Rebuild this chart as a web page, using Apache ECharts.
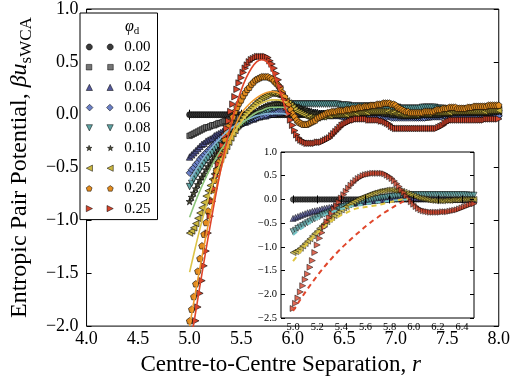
<!DOCTYPE html>
<html><head><meta charset="utf-8">
<script src="https://cdn.jsdelivr.net/npm/echarts@6/dist/echarts.min.js"></script>
<style>html,body{margin:0;padding:0;background:#fff}#c{width:513px;height:381px}</style>
</head><body><div id="c"></div>
<script>
// ---------- data (r step 0.02, 5.00 .. 8.00) ----------
const r = [
5.00,5.02,5.04,5.06,5.08,5.10,5.12,5.14,5.16,5.18,
5.20,5.22,5.24,5.26,5.28,5.30,5.32,5.34,5.36,5.38,
5.40,5.42,5.44,5.46,5.48,5.50,5.52,5.54,5.56,5.58,
5.60,5.62,5.64,5.66,5.68,5.70,5.72,5.74,5.76,5.78,
5.80,5.82,5.84,5.86,5.88,5.90,5.92,5.94,5.96,5.98,
6.00,6.02,6.04,6.06,6.08,6.10,6.12,6.14,6.16,6.18,
6.20,6.22,6.24,6.26,6.28,6.30,6.32,6.34,6.36,6.38,
6.40,6.42,6.44,6.46,6.48,6.50,6.52,6.54,6.56,6.58,
6.60,6.62,6.64,6.66,6.68,6.70,6.72,6.74,6.76,6.78,
6.80,6.82,6.84,6.86,6.88,6.90,6.92,6.94,6.96,6.98,
7.00,7.02,7.04,7.06,7.08,7.10,7.12,7.14,7.16,7.18,
7.20,7.22,7.24,7.26,7.28,7.30,7.32,7.34,7.36,7.38,
7.40,7.42,7.44,7.46,7.48,7.50,7.52,7.54,7.56,7.58,
7.60,7.62,7.64,7.66,7.68,7.70,7.72,7.74,7.76,7.78,
7.80,7.82,7.84,7.86,7.88,7.90,7.92,7.94,7.96,7.98,
8.00];
const u000 = [
0,0,0,0,0,0,0,0,0,0, 0,0,0,0,0,0,0,0,0,0, 0,0,0,0,0,0,0,0,0,0,
0,0,0,0,0,0,0,0,0,0, 0,0,0,0,0,0,0,0,0,0, 0,0,0,0,0,0,0,0,0,0,
0,0,0,0,0,0,0,0,0,0, 0,0,0,0,0,0,0,0,0,0, 0,0,0,0,0,0,0,0,0,0,
0,0,0,0,0,0,0,0,0,0, 0,0,0,0,0,0,0,0,0,0, 0,0,0,0,0,0,0,0,0,0,
0,0,0,0,0,0,0,0,0,0, 0,0,0,0,0,0,0,0,0,0, 0,0,0,0,0,0,0,0,0,0,
0];
const u002 = [
-0.20,-0.19,-0.18,-0.17,-0.16,-0.15,-0.14,-0.13,-0.12,-0.12,
-0.11,-0.10,-0.10,-0.09,-0.08,-0.08,-0.07,-0.06,-0.06,-0.05,
-0.05,-0.04,-0.04,-0.03,-0.03,-0.03,-0.02,-0.02,-0.01,-0.01,
-0.01,-0.01,0.00,0.00,0.00,0.01,0.01,0.01,0.01,0.02,
0.02,0.02,0.02,0.02,0.02,0.02,0.02,0.02,0.02,0.02,
0.02,0.02,0.01,0.01,0.01,0.01,0.01,0.01,0.00,0.00,
0.00,0.00,0.00,0.00,0.01,0.01,0.01,0.01,0.01,0.01,
0.01,0.01,0.01,0.01,0.01,0.01,0.01,0.01,0.01,0.01,
0.01,0.01,0.00,0.00,0.00,0.00,0.00,0.00,0.00,0.00,
0.00,0.00,-0.01,-0.01,-0.01,-0.01,-0.01,0.00,0.00,0.00,
0.00,0.00,0.01,0.01,0.01,0.01,0.01,0.01,0.01,0.00,
0.00,0.00,0.00,0.00,0.00,0.00,0.00,0.00,0.00,0.00,
0.00,0.00,0.00,0.01,0.01,0.01,0.01,0.01,0.01,0.01,
0.01,0.01,0.01,0.00,0.00,0.00,0.00,0.00,0.00,0.00,
0.00,0.00,0.00,0.00,0.01,0.01,0.01,0.01,0.01,0.01,
0.01];
const u004 = [
-0.40,-0.38,-0.36,-0.34,-0.32,-0.30,-0.28,-0.27,-0.25,-0.24,
-0.23,-0.22,-0.20,-0.19,-0.18,-0.17,-0.16,-0.15,-0.14,-0.13,
-0.12,-0.11,-0.10,-0.09,-0.09,-0.08,-0.07,-0.07,-0.06,-0.05,
-0.04,-0.04,-0.03,-0.02,-0.02,-0.01,-0.01,-0.01,0.00,0.01,
0.01,0.01,0.02,0.02,0.02,0.03,0.03,0.03,0.03,0.03,
0.03,0.03,0.03,0.03,0.02,0.02,0.02,0.02,0.02,0.02,
0.01,0.01,0.01,0.01,0.01,0.00,0.00,0.00,0.00,0.00,
0.00,0.00,0.00,0.00,-0.01,-0.01,-0.01,-0.01,-0.01,-0.01,
-0.01,0.00,0.00,0.00,0.00,0.00,0.00,0.01,0.01,0.01,
0.01,0.01,0.01,0.01,0.01,0.00,0.00,0.00,0.00,-0.01,
-0.01,-0.01,-0.01,-0.01,-0.01,-0.01,-0.01,-0.01,-0.01,-0.01,
-0.02,-0.02,-0.02,-0.02,-0.02,-0.02,-0.02,-0.01,-0.01,-0.01,
-0.01,-0.01,0.00,0.00,0.00,0.00,0.00,0.00,0.01,0.01,
0.01,0.01,0.01,0.01,0.01,0.00,0.00,0.00,0.00,0.00,
0.00,0.00,0.00,0.00,0.00,0.00,0.01,0.01,0.01,0.01,
0.01];
const u006 = [
-0.55,-0.52,-0.50,-0.47,-0.45,-0.42,-0.40,-0.38,-0.36,-0.34,
-0.32,-0.30,-0.28,-0.26,-0.24,-0.22,-0.21,-0.19,-0.18,-0.16,
-0.15,-0.14,-0.12,-0.11,-0.10,-0.09,-0.08,-0.07,-0.06,-0.05,
-0.04,-0.03,-0.03,-0.02,-0.01,-0.01,0.00,0.00,0.01,0.02,
0.02,0.03,0.03,0.03,0.04,0.04,0.04,0.04,0.04,0.04,
0.04,0.04,0.04,0.04,0.03,0.03,0.03,0.03,0.03,0.02,
0.02,0.02,0.01,0.01,0.01,0.00,0.00,0.00,-0.01,-0.01,
-0.01,-0.01,-0.01,-0.01,-0.02,-0.02,-0.02,-0.02,-0.02,-0.02,
-0.02,-0.02,-0.02,-0.02,-0.01,-0.01,-0.01,-0.01,-0.01,-0.01,
-0.01,-0.01,-0.01,-0.02,-0.02,-0.02,-0.02,-0.02,-0.03,-0.03,
-0.03,-0.03,-0.03,-0.03,-0.03,-0.03,-0.03,-0.03,-0.03,-0.03,
-0.03,-0.03,-0.03,-0.03,-0.03,-0.02,-0.02,-0.02,-0.02,-0.02,
-0.02,-0.02,-0.02,-0.01,-0.01,-0.01,-0.01,-0.01,-0.01,-0.01,
-0.01,-0.01,-0.02,-0.02,-0.02,-0.02,-0.02,-0.02,-0.02,-0.02,
-0.02,-0.01,-0.01,-0.01,-0.01,-0.01,-0.01,-0.01,-0.01,-0.01,
-0.01];
const u008 = [
-0.68,-0.65,-0.61,-0.58,-0.55,-0.52,-0.49,-0.46,-0.43,-0.41,
-0.38,-0.36,-0.33,-0.31,-0.29,-0.27,-0.25,-0.23,-0.21,-0.19,
-0.17,-0.15,-0.14,-0.12,-0.11,-0.09,-0.08,-0.07,-0.06,-0.04,
-0.03,-0.02,-0.01,0.00,0.01,0.02,0.03,0.04,0.04,0.05,
0.06,0.06,0.07,0.08,0.08,0.09,0.09,0.09,0.10,0.10,
0.10,0.10,0.10,0.10,0.10,0.10,0.10,0.10,0.10,0.10,
0.10,0.10,0.10,0.10,0.10,0.10,0.10,0.10,0.10,0.10,
0.10,0.10,0.10,0.09,0.09,0.09,0.09,0.09,0.08,0.08,
0.08,0.08,0.08,0.08,0.08,0.08,0.08,0.08,0.08,0.08,
0.08,0.08,0.08,0.08,0.07,0.07,0.07,0.07,0.07,0.07,
0.07,0.07,0.06,0.06,0.06,0.06,0.06,0.06,0.06,0.06,
0.06,0.06,0.06,0.07,0.07,0.07,0.07,0.07,0.07,0.07,
0.06,0.06,0.06,0.06,0.05,0.05,0.05,0.05,0.05,0.05,
0.05,0.05,0.05,0.05,0.05,0.05,0.05,0.05,0.05,0.05,
0.05,0.05,0.05,0.05,0.05,0.05,0.05,0.05,0.05,0.05,
0.05];
const u010 = [
-0.82,-0.78,-0.74,-0.70,-0.66,-0.62,-0.59,-0.56,-0.52,-0.49,
-0.46,-0.43,-0.40,-0.37,-0.34,-0.32,-0.29,-0.26,-0.24,-0.21,
-0.19,-0.17,-0.14,-0.12,-0.10,-0.08,-0.06,-0.05,-0.03,-0.02,
-0.01,0.01,0.02,0.03,0.05,0.06,0.07,0.08,0.09,0.09,
0.10,0.10,0.11,0.11,0.11,0.11,0.11,0.10,0.10,0.09,
0.09,0.08,0.07,0.07,0.06,0.05,0.05,0.04,0.03,0.03,
0.02,0.02,0.02,0.01,0.01,0.01,0.00,0.00,0.00,0.00,
0.00,0.00,0.00,0.00,0.00,0.00,0.00,0.00,0.01,0.01,
0.01,0.01,0.01,0.01,0.01,0.01,0.02,0.02,0.02,0.02,
0.02,0.02,0.02,0.02,0.01,0.01,0.01,0.01,0.00,0.00,
0.00,0.00,-0.01,-0.01,-0.01,-0.01,-0.01,-0.01,-0.01,-0.01,
-0.01,-0.01,0.00,0.00,0.00,0.00,0.00,0.00,0.00,0.00,
0.00,0.00,0.00,0.01,0.01,0.01,0.01,0.02,0.02,0.02,
0.02,0.02,0.02,0.02,0.02,0.02,0.02,0.02,0.02,0.02,
0.02,0.02,0.02,0.02,0.02,0.02,0.02,0.03,0.03,0.03,
0.03];
const u015 = [
-1.12,-1.10,-1.07,-1.03,-0.98,-0.93,-0.88,-0.83,-0.77,-0.72,
-0.67,-0.61,-0.56,-0.51,-0.47,-0.42,-0.38,-0.34,-0.30,-0.26,
-0.22,-0.18,-0.15,-0.11,-0.08,-0.05,-0.02,0.01,0.03,0.05,
0.07,0.09,0.11,0.13,0.14,0.16,0.17,0.18,0.19,0.20,
0.20,0.20,0.19,0.19,0.18,0.17,0.15,0.13,0.11,0.09,
0.07,0.05,0.03,0.02,0.01,0.00,-0.01,-0.02,-0.02,-0.03,
-0.03,-0.03,-0.03,-0.02,-0.02,-0.02,-0.01,-0.01,-0.01,0.00,
0.00,0.00,0.00,0.00,0.00,0.00,0.00,0.01,0.01,0.01,
0.01,0.01,0.02,0.02,0.02,0.02,0.02,0.03,0.03,0.03,
0.03,0.03,0.03,0.03,0.03,0.03,0.03,0.02,0.02,0.02,
0.01,0.01,0.01,0.00,0.00,0.00,0.00,0.00,0.00,0.00,
0.00,0.01,0.01,0.01,0.01,0.01,0.01,0.02,0.02,0.02,
0.02,0.02,0.02,0.02,0.02,0.02,0.02,0.03,0.03,0.03,
0.03,0.03,0.03,0.03,0.03,0.03,0.03,0.03,0.03,0.03,
0.03,0.03,0.03,0.03,0.04,0.04,0.04,0.04,0.04,0.04,
0.04];
const u020 = [
-1.95,-1.84,-1.72,-1.60,-1.48,-1.36,-1.24,-1.13,-1.02,-0.91,
-0.81,-0.71,-0.62,-0.53,-0.45,-0.37,-0.30,-0.23,-0.17,-0.11,
-0.06,-0.02,0.03,0.07,0.11,0.14,0.18,0.21,0.24,0.26,
0.29,0.31,0.33,0.34,0.35,0.36,0.36,0.36,0.36,0.35,
0.34,0.32,0.30,0.28,0.25,0.21,0.17,0.13,0.09,0.05,
0.01,-0.02,-0.05,-0.07,-0.08,-0.09,-0.09,-0.09,-0.08,-0.07,
-0.06,-0.05,-0.03,-0.02,-0.01,0.00,0.01,0.02,0.02,0.03,
0.03,0.03,0.04,0.04,0.04,0.04,0.05,0.05,0.05,0.06,
0.06,0.06,0.07,0.07,0.07,0.08,0.08,0.08,0.09,0.09,
0.09,0.10,0.10,0.10,0.11,0.11,0.11,0.11,0.10,0.10,
0.09,0.07,0.06,0.05,0.04,0.03,0.03,0.02,0.02,0.02,
0.02,0.02,0.02,0.02,0.03,0.03,0.03,0.03,0.03,0.04,
0.05,0.05,0.05,0.06,0.06,0.06,0.07,0.07,0.07,0.07,
0.06,0.06,0.06,0.06,0.06,0.07,0.07,0.07,0.08,0.08,
0.08,0.08,0.08,0.08,0.08,0.09,0.09,0.09,0.09,0.09,
0.09];
const u025 = [
-2.30,-2.19,-2.08,-1.95,-1.82,-1.69,-1.57,-1.43,-1.29,-1.12,
-0.96,-0.82,-0.70,-0.58,-0.47,-0.38,-0.29,-0.20,-0.13,-0.06,
0.03,0.10,0.17,0.24,0.30,0.35,0.40,0.44,0.47,0.50,
0.52,0.53,0.54,0.55,0.55,0.55,0.55,0.55,0.54,0.51,
0.48,0.44,0.39,0.33,0.27,0.20,0.14,0.07,0.01,-0.05,
-0.10,-0.15,-0.19,-0.22,-0.24,-0.25,-0.26,-0.27,-0.27,-0.27,
-0.27,-0.27,-0.26,-0.26,-0.26,-0.25,-0.24,-0.23,-0.22,-0.20,
-0.18,-0.16,-0.14,-0.12,-0.10,-0.09,-0.08,-0.07,-0.06,-0.05,
-0.05,-0.04,-0.04,-0.04,-0.04,-0.04,-0.04,-0.05,-0.05,-0.05,
-0.05,-0.05,-0.05,-0.06,-0.06,-0.07,-0.08,-0.09,-0.11,-0.12,
-0.13,-0.13,-0.13,-0.13,-0.13,-0.13,-0.13,-0.13,-0.13,-0.13,
-0.13,-0.13,-0.13,-0.13,-0.13,-0.13,-0.13,-0.13,-0.13,-0.13,
-0.13,-0.12,-0.11,-0.10,-0.08,-0.07,-0.06,-0.05,-0.05,-0.05,
-0.05,-0.05,-0.05,-0.05,-0.05,-0.05,-0.05,-0.05,-0.05,-0.05,
-0.05,-0.05,-0.05,-0.05,-0.04,-0.04,-0.04,-0.04,-0.04,-0.04,
-0.04];
// smooth curves (main panel, solid) and inset dashed curves
const rFit = [5.00,5.05,5.10,5.15,5.20,5.25,5.30,5.35,5.40,5.45,5.50,5.55,5.60,5.65,5.70,5.75,5.80,5.85,5.90,5.95];
const fit025 = [-2.20,-1.92,-1.62,-1.33,-1.05,-0.78,-0.53,-0.30,-0.10,0.08,0.23,0.35,0.44,0.50,0.52,0.50,0.42,0.30,0.15,0.00];
const fit020 = [-2.00,-1.72,-1.45,-1.19,-0.95,-0.73,-0.53,-0.36,-0.21,-0.09,0.01,0.07,0.12,0.16,0.19,0.21,0.22,0.21,0.19,0.16];
const fit015 = [-1.49,-1.28,-1.08,-0.90,-0.73,-0.58,-0.45,-0.33,-0.23,-0.14,-0.07,-0.01,0.04,0.08,0.11,0.13,0.14,0.14,0.13,0.11];
const fit010 = [-0.97,-0.84,-0.72,-0.61,-0.51,-0.42,-0.34,-0.27,-0.20,-0.14,-0.09,-0.05,-0.01,0.02,0.04,0.06,0.07,0.07,0.07,0.06];
const fit008 = [-0.62,-0.54,-0.46,-0.39,-0.33,-0.27,-0.22,-0.17,-0.13,-0.10,-0.07,-0.05,-0.03,-0.01,0.00,0.01,0.01,0.01,0.01,0.00];
const dash015 = [-1.30,-1.14,-0.98,-0.84,-0.71,-0.60,-0.49,-0.40,-0.33,-0.27,-0.21,-0.18,-0.16,-0.14,-0.12,-0.09,-0.06,-0.03,0.00,0.01];
const dash025 = [-2.35,-2.15,-1.96,-1.78,-1.61,-1.45,-1.30,-1.16,-1.03,-0.91,-0.79,-0.68,-0.57,-0.47,-0.38,-0.29,-0.21,-0.13,-0.06,0.00];
const dash008 = [-0.75,-0.65,-0.56,-0.48,-0.41,-0.34,-0.29,-0.24,-0.20,-0.17,-0.14,-0.12,-0.10,-0.08,-0.06,-0.05,-0.03,-0.02,-0.01,0.00];
const labels = ['0.00','0.02','0.04','0.06','0.08','0.10','0.15','0.20','0.25'];
const insetXTicks = [5.0,5.2,5.4,5.6,5.8,6.0,6.2,6.4];

// ---------- styling ----------
const F = '"Liberation Serif","Times New Roman",serif';
const pairs = (xs, ys) => xs.map((x, i) => [x, ys[i]]);
const circ = []; for (let k = 0; k < 20; k++) { const a = k / 20 * 2 * Math.PI; circ.push([Math.sin(a), -Math.cos(a)]); }
const star = []; for (let k = 0; k < 10; k++) { const a = k / 10 * 2 * Math.PI, rr = k % 2 ? 0.4 : 1; star.push([rr * Math.sin(a), -rr * Math.cos(a)]); }
const pent = []; for (let k = 0; k < 5; k++) { const a = k / 5 * 2 * Math.PI; pent.push([Math.sin(a), -Math.cos(a)]); }
const shapes = {
  circle: circ,
  square: [[-1,-1],[1,-1],[1,1],[-1,1]],
  up: [[0,-1],[1,1],[-1,1]],
  diamond: [[0,-1],[1,0],[0,1],[-1,0]],
  down: [[0,1],[1,-1],[-1,-1]],
  star: star,
  left: [[-1,0],[1,-1],[1,1]],
  pent: pent,
  right: [[1,0],[-1,-1],[-1,1]]
};
function poly(pts, s, ox, oy) {
  return pts.map((p, i) => (i ? 'L' : 'M') + (ox + p[0] * s).toFixed(2) + ',' + (oy + p[1] * s).toFixed(2)).join('') + 'Z';
}
const sym = k => 'path://' + poly(shapes[k], 10, 10, 10);
const icon = (k, s) => 'path://' + poly(shapes[k], s, 3.5, 3.5) + poly(shapes[k], s, 23.5, 3.5);

const styles = [
  {shape:'circle', color:'#3a3a3a', size:6, ls:2.9},
  {shape:'square', color:'#757575', size:5.5, ls:2.6},
  {shape:'up', color:'#55599b', size:6.5, ls:3},
  {shape:'diamond', color:'#6b80c6', size:7, ls:3.3},
  {shape:'down', color:'#5fa3a3', size:6.5, ls:3},
  {shape:'star', color:'#4d4d3a', size:7, ls:2.8},
  {shape:'left', color:'#cbb740', size:6.5, ls:3},
  {shape:'pent', color:'#e38c1f', size:6.5, ls:2.9},
  {shape:'right', color:'#d6452c', size:6.5, ls:3}
];
const vals = [u000, u002, u004, u006, u008, u010, u015, u020, u025];

const series = [];
vals.forEach((v, i) => {
  const st = styles[i];
  series.push({
    name: labels[i], type: 'scatter', xAxisIndex: 0, yAxisIndex: 0,
    data: pairs(r, v), symbol: st.shape === 'circle' ? 'circle' : sym(st.shape), symbolSize: st.size,
    itemStyle: {color: st.color, borderColor: '#000', borderWidth: 0.6, opacity: 1},
    z: 2, silent: true
  });
});
const fits = [[fit008,'#86b6d6'],[fit010,'#8cc47a'],[fit015,'#dcc448'],[fit020,'#f09a2c'],[fit025,'#de4429']];
fits.forEach(f => series.push({
  name: 'fit', type: 'line', xAxisIndex: 0, yAxisIndex: 0, data: pairs(rFit, f[0]),
  showSymbol: false, smooth: 0.3, lineStyle: {color: f[1], width: 1.6}, z: 3, silent: true
}));
[0, 2, 4, 6, 8].forEach(i => {
  const st = styles[i];
  series.push({
    name: 'inset ' + labels[i], type: 'scatter', xAxisIndex: 2, yAxisIndex: 2,
    data: pairs(r, vals[i]), symbol: st.shape === 'circle' ? 'circle' : sym(st.shape), symbolSize: st.size - 0.5,
    itemStyle: {color: st.color, borderColor: '#000', borderWidth: 0.6},
    z: 6, silent: true
  });
});
[[dash008,'#74c4c6'],[dash015,'#e0c640'],[dash025,'#e0472c']].forEach(d => series.push({
  name: 'dash', type: 'line', xAxisIndex: 2, yAxisIndex: 2, data: pairs(rFit, d[0]),
  showSymbol: false, smooth: 0.3, lineStyle: {color: d[1], width: 2, type: [5, 4]}, z: 7, silent: true
}));

const fmtMinus = v => (v < 0 ? '\u2212' : '') + Math.abs(v).toFixed(1);
const tickIn = len => ({show: true, inside: true, length: len, lineStyle: {color: '#000', width: 1}});
const hidden = {show: false};

const option = {
  animation: false,
  backgroundColor: '#fff',
  grid: [
    {left: 72, top: 6, width: 430, height: 329, show: true, borderColor: '#000', borderWidth: 1, backgroundColor: 'transparent'},
    {left: 281, top: 152, width: 193, height: 166, show: true, borderColor: '#000', borderWidth: 1, backgroundColor: '#fff', z: 4}
  ],
  xAxis: [
    {gridIndex: 0, type: 'value', min: 4, max: 8, interval: 0.5, axisLine: hidden, axisTick: tickIn(5), splitLine: hidden,
     axisLabel: {formatter: fmtMinus, fontFamily: F, fontSize: 18, color: '#000', margin: 4},
     name: '{a|Centre-to-Centre Separation, }{i|r}', nameLocation: 'middle', nameGap: 21,
     nameTextStyle: {padding: [0, 24, 0, 0], rich: {a: {fontFamily: F, fontSize: 23, color: '#000'}, i: {fontFamily: F, fontSize: 23, fontStyle: 'italic', color: '#000'}}}},
    {gridIndex: 0, type: 'value', position: 'top', min: 4, max: 8, interval: 0.5, axisLine: hidden, axisTick: tickIn(5), axisLabel: hidden, splitLine: hidden},
    {gridIndex: 1, type: 'value', min: 4.9, max: 6.5, axisLine: hidden, splitLine: hidden, z: 8,
     axisTick: Object.assign(tickIn(4), {customValues: insetXTicks}),
     axisLabel: {customValues: insetXTicks, formatter: v => v.toFixed(1), fontFamily: F, fontSize: 10.5, color: '#000', margin: 4}},
    {gridIndex: 1, type: 'value', position: 'top', min: 4.9, max: 6.5, axisLine: hidden, splitLine: hidden, z: 8,
     axisTick: Object.assign(tickIn(4), {customValues: insetXTicks}), axisLabel: hidden}
  ],
  yAxis: [
    {gridIndex: 0, type: 'value', min: -2, max: 1, interval: 0.5, axisLine: hidden, axisTick: tickIn(5), splitLine: hidden,
     axisLabel: {formatter: fmtMinus, fontFamily: F, fontSize: 18, color: '#000', margin: 8},
     name: '{a|Entropic Pair Potential, }{i|\u03b2u}{s|sWCA}', nameLocation: 'middle', nameGap: 50, nameRotate: 90,
     nameTextStyle: {rich: {
       a: {fontFamily: F, fontSize: 24, color: '#000', verticalAlign: 'bottom', padding: [0, 0, 3, 0]},
       i: {fontFamily: F, fontSize: 24, fontStyle: 'italic', color: '#000', verticalAlign: 'bottom', padding: [0, 0, 3, 0]},
       s: {fontFamily: F, fontSize: 17, color: '#000', verticalAlign: 'bottom'}}}},
    {gridIndex: 0, type: 'value', position: 'right', min: -2, max: 1, interval: 0.5, axisLine: hidden, axisTick: tickIn(5), axisLabel: hidden, splitLine: hidden},
    {gridIndex: 1, type: 'value', min: -2.5, max: 1, interval: 0.5, axisLine: hidden, axisTick: tickIn(4), splitLine: hidden, z: 8,
     axisLabel: {formatter: fmtMinus, fontFamily: F, fontSize: 10.5, color: '#000', margin: 4}},
    {gridIndex: 1, type: 'value', position: 'right', min: -2.5, max: 1, interval: 0.5, axisLine: hidden, axisTick: tickIn(4), axisLabel: hidden, splitLine: hidden, z: 8}
  ],
  legend: {
    orient: 'vertical', left: 80, top: 13, selectedMode: false,
    backgroundColor: '#fff', borderColor: '#000', borderWidth: 1, borderRadius: 0,
    padding: [26, 7, 3, 6], itemWidth: 27, itemHeight: 7, itemGap: 4.2,
    textStyle: {fontFamily: F, fontSize: 15, color: '#000', lineHeight: 16, padding: [0, 0, 0, 6]},
    data: labels.map((l, i) => ({name: l, icon: icon(styles[i].shape, styles[i].ls), itemStyle: {borderWidth: 0.5}}))
  },
  graphic: [{
    type: 'text', left: 125, top: 19, z: 20,
    style: {text: '{p|\u03c6}{s|d}', rich: {
      p: {fontFamily: F, fontSize: 16, fontStyle: 'italic', fill: '#000', verticalAlign: 'bottom', padding: [0, 0, 2, 0]},
      s: {fontFamily: F, fontSize: 11, fill: '#000', verticalAlign: 'bottom'}}}
  }],
  series: series
};
const chart = echarts.init(document.getElementById('c'), null, {renderer: 'canvas'});
chart.setOption(option);
</script></body></html>
